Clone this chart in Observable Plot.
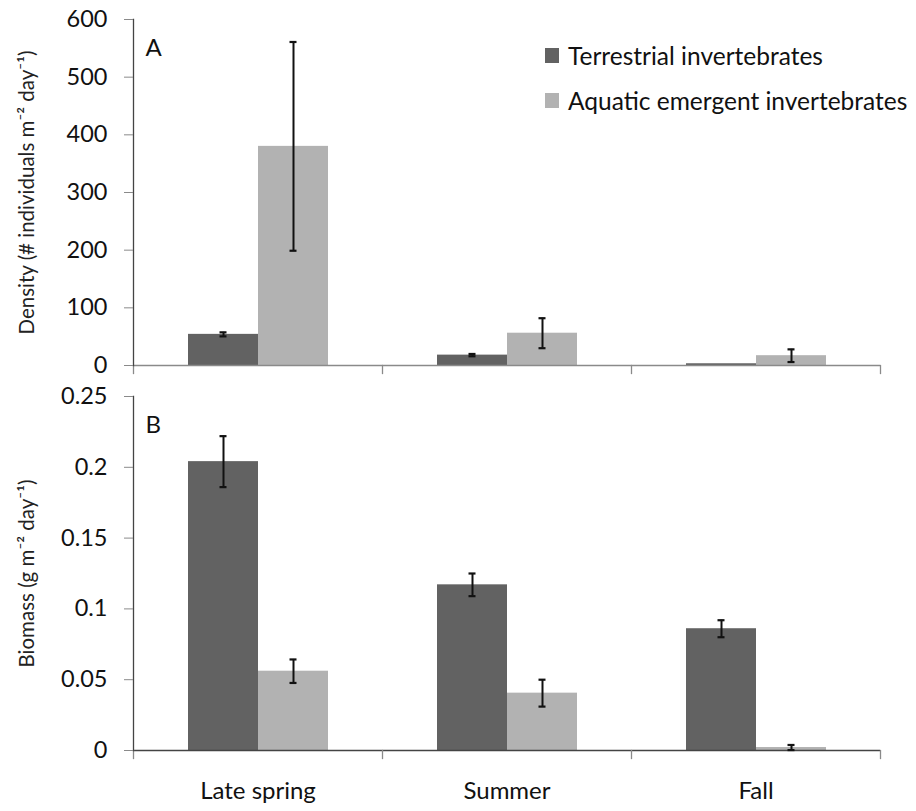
<!DOCTYPE html>
<html>
<head>
<meta charset="utf-8">
<script src="https://cdn.jsdelivr.net/npm/d3@7"></script>
<script src="https://cdn.jsdelivr.net/npm/@observablehq/plot@0.6"></script>
<style>
  body { margin: 0; background: #fff; font-family: Lato, "Open Sans", sans-serif; }
  #wrap { position: relative; width: 916px; height: 811px; }
  #wrap svg { display: block; }
  #legend { position: absolute; left: 545px; top: 40px; font-family: Lato, sans-serif; font-size: 24.5px; color: #111; }
  #legend .row { display: flex; align-items: center; height: 30px; margin-bottom: 15px; }
  #legend .sw { width: 14px; height: 15px; margin-right: 9px; }
</style>
</head>
<body>
<div id="wrap"><div id="legend"></div></div>
<script>
const seasons = ["Late spring", "Summer", "Fall"];
const series = ["Terrestrial invertebrates", "Aquatic emergent invertebrates"];
const colors = ["#626262", "#b2b2b2"];

// Panel A: density (# individuals m-2 day-1)
const densityTerrestrial = [54, 18, 3];
const densityTerrestrialErr = [3.5, 2, 0];
const densityAquatic = [380, 56, 17];
const densityAquaticErr = [181, 26, 11];

// Panel B: biomass (g m-2 day-1)
const biomassTerrestrial = [0.204, 0.117, 0.086];
const biomassTerrestrialErr = [0.018, 0.008, 0.006];
const biomassAquatic = [0.056, 0.0405, 0.0021];
const biomassAquaticErr = [0.0083, 0.0095, 0.0018];

const densityTicks = [0, 100, 200, 300, 400, 500, 600];
const biomassTicks = [0, 0.05, 0.1, 0.15, 0.2, 0.25];

function rowsOf(tVals, tErr, aVals, aErr) {
  const rows = [];
  seasons.forEach((s, i) => {
    rows.push({season: s, series: series[0], value: tVals[i], err: tErr[i]});
    rows.push({season: s, series: series[1], value: aVals[i], err: aErr[i]});
  });
  return rows;
}

const W = 916, ML = 133, MR = 36;
const FONT = "Lato, 'Open Sans', sans-serif";

function panel({rows, ticks, domain, tickFormat, height, marginTop, marginBottom, letter, ylabel, showX, baseStroke}) {
  const innerH = height - marginTop - marginBottom;
  const withErr = rows.filter(d => d.err > 0);
  const marks = [
    Plot.barY(rows, {fx: "season", x: "series", y: "value", fill: "series"}),
    Plot.ruleY([0], {stroke: baseStroke, strokeWidth: 1.3}),
    Plot.frame({anchor: "left", insetTop: innerH, insetBottom: -8, stroke: "#8a8a8a", strokeWidth: 1.3}),
    Plot.frame({anchor: "right", fx: [seasons[seasons.length - 1]], insetTop: innerH, insetBottom: -8, stroke: "#8a8a8a", strokeWidth: 1.3}),
    Plot.frame({anchor: "left", fx: [seasons[0]], stroke: "#444", strokeWidth: 1.3}),
    Plot.ruleX(withErr, {fx: "season", x: "series", y1: d => d.value - d.err, y2: d => d.value + d.err, stroke: "#111", strokeWidth: 2}),
    Plot.tickY(withErr, {fx: "season", x: "series", y: d => d.value - d.err, stroke: "#111", strokeWidth: 2.2, insetLeft: 31.5, insetRight: 31.5}),
    Plot.tickY(withErr, {fx: "season", x: "series", y: d => d.value + d.err, stroke: "#111", strokeWidth: 2.2, insetLeft: 31.5, insetRight: 31.5}),
    Plot.axisY({ticks, tickFormat, tickSize: 9, tickPadding: 17, fontSize: 23.5, stroke: "#8a8a8a", fill: "#111", label: null}),
    Plot.text([seasons[0]], {fx: d => d, text: () => letter, frameAnchor: "top-left", dx: 12, dy: 19, fontSize: 24, fill: "#111"}),
    Plot.text([seasons[0]], {fx: d => d, text: () => ylabel, frameAnchor: "left", rotate: -90, dx: -106, fontSize: 20.5, fill: "#222", textAnchor: "middle", lineAnchor: "middle"})
  ];
  if (showX) marks.push(Plot.axisFx({anchor: "bottom", tickSize: 0, tickPadding: 31, fontSize: 24, fill: "#111", label: null}));
  return Plot.plot({
    width: W, height, marginLeft: ML, marginRight: MR, marginTop, marginBottom,
    style: {fontFamily: FONT, background: "transparent", overflow: "visible"},
    fx: {domain: seasons, padding: 0, axis: null, label: null},
    x: {domain: series, paddingInner: 0, paddingOuter: 0.754, axis: null},
    y: {domain, axis: null},
    color: {domain: series, range: colors},
    marks
  });
}

const wrap = document.getElementById("wrap");
const svgA = panel({
  rows: rowsOf(densityTerrestrial, densityTerrestrialErr, densityAquatic, densityAquaticErr),
  ticks: densityTicks, domain: [0, 600], tickFormat: d3.format("d"),
  height: 380, marginTop: 19, marginBottom: 15, letter: "A",
  ylabel: "Density (# individuals m\u207B\u00B2 day\u207B\u00B9)", showX: false, baseStroke: "#8a8a8a"
});
const svgB = panel({
  rows: rowsOf(biomassTerrestrial, biomassTerrestrialErr, biomassAquatic, biomassAquaticErr),
  ticks: biomassTicks, domain: [0, 0.25], tickFormat: d => d === 0 ? "0" : String(d),
  height: 431, marginTop: 16, marginBottom: 61, letter: "B",
  ylabel: "Biomass (g m\u207B\u00B2 day\u207B\u00B9)", showX: true, baseStroke: "#444"
});
wrap.appendChild(svgA);
wrap.appendChild(svgB);

const legend = document.getElementById("legend");
series.forEach((s, i) => {
  const row = document.createElement("div");
  row.className = "row";
  const sw = document.createElement("div");
  sw.className = "sw";
  sw.style.background = colors[i];
  const label = document.createElement("span");
  label.textContent = s;
  row.appendChild(sw);
  row.appendChild(label);
  legend.appendChild(row);
});
</script>
</body>
</html>
